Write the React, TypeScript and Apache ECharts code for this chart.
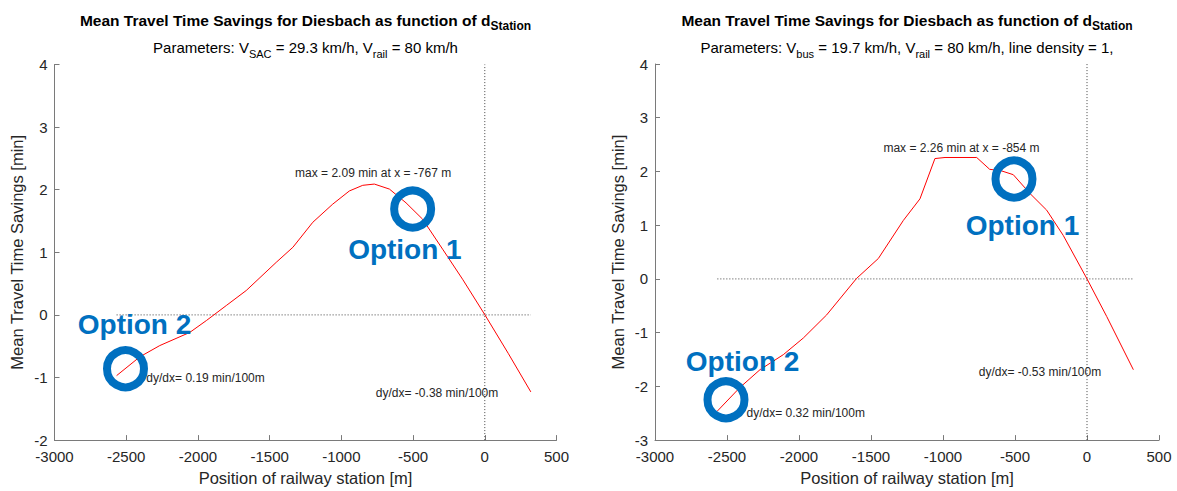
import React, { useEffect, useRef } from "react";
import * as echarts from "echarts";

// ---------- data ----------
const xTicksMin = -3000;
const xTicksMax = 500;
const xTickStep = 500;

// Left chart (SAC)
const leftX = [-2567, -2405, -2266, -2057, -1941, -1802, -1663, -1454, -1338, -1199, -1060, -944, -851, -770, -665, -549, -434, -294, -155, 1, 165, 321];
const leftY = [-0.97, -0.67, -0.49, -0.28, -0.09, 0.15, 0.39, 0.84, 1.08, 1.48, 1.77, 1.98, 2.07, 2.09, 2.01, 1.79, 1.53, 1.05, 0.57, 0, -0.62, -1.23];
const leftYRange = [-2, 4];
const leftTitle = [
  { text: "Mean Travel Time Savings for Diesbach as function of d", sub: false },
  { text: "Station", sub: true },
];
const leftParams = [
  { text: "Parameters: V", sub: false },
  { text: "SAC", sub: true },
  { text: " = 29.3 km/h, V", sub: false },
  { text: "rail", sub: true },
  { text: " = 80 km/h", sub: false },
];
const leftCircles = [[-503, 1.69], [-2505, -0.86]];
const leftOptions = [
  { name: "Option 1", value: [-557, 1.05] },
  { name: "Option 2", value: [-2442, -0.16] },
];
const leftNotes = [
  { name: "max = 2.09 min at x = -767 m", value: [-1326, 2.26] },
  { name: "dy/dx= 0.19 min/100m", value: [-2363, -1.0] },
  { name: "dy/dx= -0.38 min/100m", value: [-763, -1.24] },
];

// Right chart (bus)
const rightX = [-2567, -2410, -2271, -2109, -1970, -1808, -1600, -1449, -1275, -1160, -1056, -986, -766, -676, -593, -512, -396, -280, -165, 0, 137, 322];
const rightY = [-2.46, -2.02, -1.69, -1.41, -1.1, -0.67, 0.01, 0.38, 1.09, 1.49, 2.24, 2.26, 2.26, 2.04, 2.01, 1.94, 1.59, 1.28, 0.81, 0, -0.7, -1.69];
const rightYRange = [-3, 4];
const rightTitle = [
  { text: "Mean Travel Time Savings for Diesbach as function of d", sub: false },
  { text: "Station", sub: true },
];
const rightParams = [
  { text: "Parameters: V", sub: false },
  { text: "bus", sub: true },
  { text: " = 19.7 km/h, V", sub: false },
  { text: "rail", sub: true },
  { text: " = 80 km/h, line density = 1,", sub: false },
];
const rightCircles = [[-507, 1.86], [-2507, -2.25]];
const rightOptions = [
  { name: "Option 1", value: [-448, 1.0] },
  { name: "Option 2", value: [-2392, -1.53] },
];
const rightNotes = [
  { name: "max = 2.26 min at x = -854 m", value: [-1417, 2.44] },
  { name: "dy/dx= 0.32 min/100m", value: [-2368, -2.49] },
  { name: "dy/dx= -0.53 min/100m", value: [-755, -1.73] },
];

const xAxisName = "Position of railway station [m]";
const yAxisName = "Mean Travel Time Savings [min]";

// ---------- styles ----------
const FONT_NAME = "Liberation Sans";
const FONT = "'Liberation Sans', Arial, Helvetica, sans-serif";
const AXIS_COLOR = "#7a7a7a";
const TEXT_COLOR = "#262626";
const BLUE = "#0070C0";

const grids = [
  { left: 54.5, top: 64.5, width: 502, height: 377.5 },
  { left: 655, top: 64, width: 504, height: 378 },
];

function makeXAxis(i: number) {
  return {
    type: "value",
    gridIndex: i,
    min: xTicksMin,
    max: xTicksMax,
    interval: xTickStep,
    name: xAxisName,
    nameLocation: "middle",
    nameGap: 27,
    nameTextStyle: { fontSize: 16.5, color: TEXT_COLOR, fontFamily: FONT },
    axisLine: { show: true, onZero: false, lineStyle: { color: AXIS_COLOR, width: 1 } },
    axisTick: { show: true, inside: true, length: 5, lineStyle: { color: AXIS_COLOR } },
    axisLabel: {
      fontSize: 15,
      color: TEXT_COLOR,
      fontFamily: FONT,
      margin: 9,
      formatter: (v: number) => String(v),
    },
    splitLine: { show: false },
  };
}

function makeYAxis(i: number, range: number[]) {
  return {
    type: "value",
    gridIndex: i,
    min: range[0],
    max: range[1],
    interval: 1,
    name: yAxisName,
    nameLocation: "middle",
    nameGap: 29,
    nameRotate: 90,
    nameTextStyle: { fontSize: 16.5, color: TEXT_COLOR, fontFamily: FONT },
    axisLine: { show: true, onZero: false, lineStyle: { color: AXIS_COLOR, width: 1 } },
    axisTick: { show: true, inside: true, length: 5, lineStyle: { color: AXIS_COLOR } },
    axisLabel: {
      fontSize: 15,
      color: TEXT_COLOR,
      fontFamily: FONT,
      margin: 7,
      formatter: (v: number) => String(v),
    },
    splitLine: { show: false },
  };
}

function makeSeries(
  i: number,
  xs: number[],
  ys: number[],
  yRange: number[],
  circles: number[][],
  options: { name: string; value: number[] }[],
  notes: { name: string; value: number[] }[]
) {
  const dotted = { color: "#444", width: 1, type: [1, 2] as any };
  return [
    {
      type: "line",
      xAxisIndex: i,
      yAxisIndex: i,
      data: [[xs[0], 0], [xs[xs.length - 1], 0]],
      symbol: "none",
      silent: true,
      lineStyle: dotted,
      z: 1,
    },
    {
      type: "line",
      xAxisIndex: i,
      yAxisIndex: i,
      data: [[0, yRange[0]], [0, yRange[1]]],
      symbol: "none",
      silent: true,
      lineStyle: dotted,
      z: 1,
    },
    {
      type: "line",
      xAxisIndex: i,
      yAxisIndex: i,
      data: xs.map((x, k) => [x, ys[k]]),
      symbol: "none",
      lineStyle: { color: "#ff0000", width: 1 },
      z: 2,
    },
    {
      type: "scatter",
      xAxisIndex: i,
      yAxisIndex: i,
      data: circles,
      symbol: "circle",
      symbolSize: 37,
      itemStyle: { color: "rgba(0,0,0,0)", borderColor: BLUE, borderWidth: 8, opacity: 1 },
      z: 3,
    },
    {
      type: "scatter",
      xAxisIndex: i,
      yAxisIndex: i,
      data: options,
      symbolSize: 1,
      itemStyle: { color: "rgba(0,0,0,0)", opacity: 1 },
      label: {
        show: true,
        position: "inside",
        formatter: (p: any) => p.name,
        fontSize: 28,
        fontWeight: "bold",
        color: BLUE,
        opacity: 1,
        fontFamily: FONT,
      },
      z: 4,
    },
    {
      type: "scatter",
      xAxisIndex: i,
      yAxisIndex: i,
      data: notes,
      symbolSize: 1,
      itemStyle: { color: "rgba(0,0,0,0)", opacity: 1 },
      label: {
        show: true,
        position: "right",
        distance: 0,
        formatter: (p: any) => p.name,
        fontSize: 12,
        color: TEXT_COLOR,
        opacity: 1,
        fontFamily: FONT,
      },
      z: 4,
    },
  ];
}

let measureCtx: CanvasRenderingContext2D | null = null;
function measure(text: string, size: number, bold: boolean) {
  if (!measureCtx) measureCtx = document.createElement("canvas").getContext("2d");
  if (!measureCtx) return text.length * size * 0.55;
  measureCtx.font = `${bold ? "bold " : ""}${size}px '${FONT_NAME}', Arial, sans-serif`;
  return measureCtx.measureText(text).width;
}

// Lay out a line of text with subscripts, centered at cx, baseline at by.
function textLine(
  cx: number,
  by: number,
  parts: { text: string; sub: boolean }[],
  size: number,
  subSize: number,
  subDrop: number,
  bold: boolean
) {
  const widths = parts.map((p) => measure(p.text, p.sub ? subSize : size, bold));
  const total = widths.reduce((a, b) => a + b, 0);
  let x = cx - total / 2;
  const els: any[] = [];
  parts.forEach((p, k) => {
    const fs = p.sub ? subSize : size;
    const baseline = p.sub ? by + subDrop : by;
    els.push({
      type: "text",
      x,
      y: baseline - 0.35 * fs,
      style: {
        text: p.text,
        fontSize: fs,
        fontWeight: bold ? "bold" : "normal",
        fontFamily: FONT,
        fill: "#000",
        align: "left",
        verticalAlign: "middle",
      },
    });
    x += widths[k];
  });
  return els;
}

export default function App() {
  const ref = useRef<HTMLDivElement>(null);
  useEffect(() => {
    if (!ref.current) return;
    const chart = echarts.init(ref.current, null, { renderer: "svg" });
    const c0 = grids[0].left + grids[0].width / 2;
    const c1 = grids[1].left + grids[1].width / 2;
    chart.setOption({
      animation: false,
      backgroundColor: "#fff",
      textStyle: { fontFamily: FONT },
      grid: grids,
      xAxis: [makeXAxis(0), makeXAxis(1)],
      yAxis: [makeYAxis(0, leftYRange), makeYAxis(1, rightYRange)],
      series: [
        ...makeSeries(0, leftX, leftY, leftYRange, leftCircles, leftOptions, leftNotes),
        ...makeSeries(1, rightX, rightY, rightYRange, rightCircles, rightOptions, rightNotes),
      ],
      graphic: [
        ...textLine(c0, 25.5, leftTitle, 15.5, 12, 5, true),
        ...textLine(c0, 52.5, leftParams, 15, 11, 5, false),
        ...textLine(c1, 25.5, rightTitle, 15.5, 12, 5, true),
        ...textLine(c1, 52.5, rightParams, 15, 11, 5, false),
      ],
    });
    return () => chart.dispose();
  }, []);
  return (
    <div
      ref={ref}
      style={{ position: "absolute", left: 0, top: 0, width: 1177, height: 491 }}
    />
  );
}
